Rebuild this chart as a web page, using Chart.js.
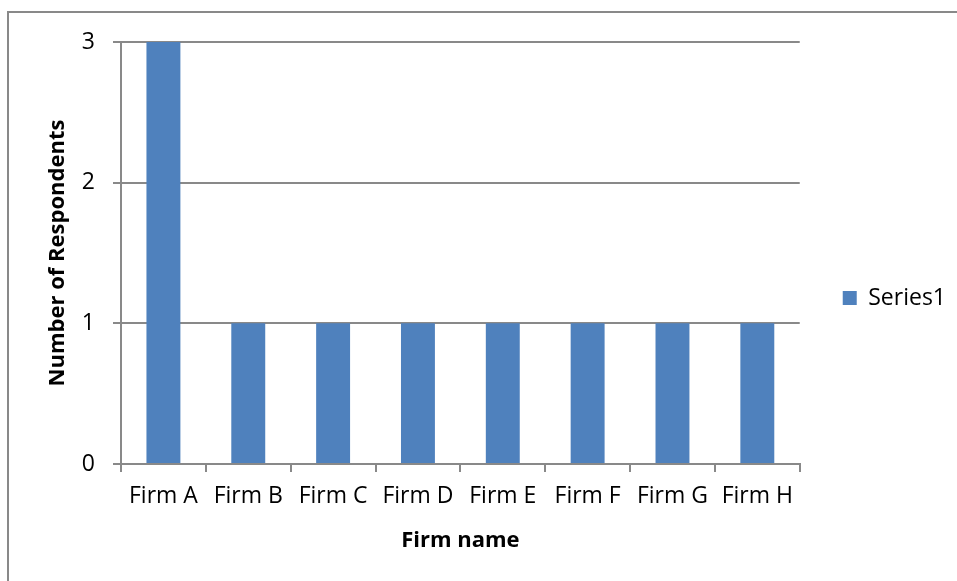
<!DOCTYPE html>
<html>
<head>
<meta charset="utf-8">
<script src="https://cdn.jsdelivr.net/npm/chart.js@4/dist/chart.umd.min.js"></script>
<style>
  body { margin: 0; background: #fff; overflow: hidden; }
  #wrap { position: relative; width: 957px; height: 581px; }
  #frame {
    position: absolute; left: 7px; top: 11px; width: 1000px; height: 700px;
    border-top: 2px solid #898989; border-left: 2px solid #898989;
  }
  canvas { position: absolute; left: 0; top: 0; }
</style>
</head>
<body>
<div id="wrap">
  <div id="frame"></div>
  <canvas id="firmChart" width="957" height="581"></canvas>
</div>
<script>
  const firms = ['Firm A', 'Firm B', 'Firm C', 'Firm D', 'Firm E', 'Firm F', 'Firm G', 'Firm H'];
  const respondents = [3, 1, 1, 1, 1, 1, 1, 1];
  const yTicks = [0, 1, 2, 3];

  const axisGray = '#898989';
  const font = { family: "'Open Sans', sans-serif", size: 23 };

  const ctx = document.getElementById('firmChart').getContext('2d');
  new Chart(ctx, {
    type: 'bar',
    data: {
      labels: firms,
      datasets: [{
        label: 'Series1',
        data: respondents,
        backgroundColor: '#4f81bd',
        barPercentage: 0.4,
        categoryPercentage: 1
      }]
    },
    options: {
      responsive: false,
      animation: false,
      layout: { padding: { top: 42, right: 1, bottom: 27, left: 0 } },
      plugins: {
        tooltip: { enabled: false },
        legend: {
          position: 'right',
          labels: {
            boxWidth: 14,
            boxHeight: 14,
            padding: 43,
            color: '#000',
            font: font
          }
        }
      },
      scales: {
        x: {
          grid: { drawOnChartArea: false, color: axisGray, lineWidth: 2, tickLength: 8 },
          border: { color: axisGray, width: 2 },
          ticks: { color: '#000', font: font, padding: 11, maxRotation: 0 },
          title: {
            display: true, text: 'Firm name', color: '#000',
            font: { family: font.family, size: 22, weight: 'bold' },
            padding: { top: 0, bottom: 0 }
          },
          afterFit: s => { s.height = 581 - 464 - 27; }
        },
        y: {
          min: 0,
          max: 3,
          afterBuildTicks: s => { s.ticks = yTicks.map(v => ({ value: v })); },
          grid: { color: axisGray, lineWidth: 2, tickLength: 8 },
          border: { color: axisGray, width: 2 },
          ticks: { color: '#000', font: font, padding: 18 },
          title: {
            display: true, text: 'Number of Respondents', color: '#000',
            font: { family: font.family, size: 22, weight: 'bold' },
            padding: { top: 45, bottom: 0 }
          },
          afterFit: s => { s.width = 121; }
        }
      }
    }
  });
</script>
</body>
</html>
